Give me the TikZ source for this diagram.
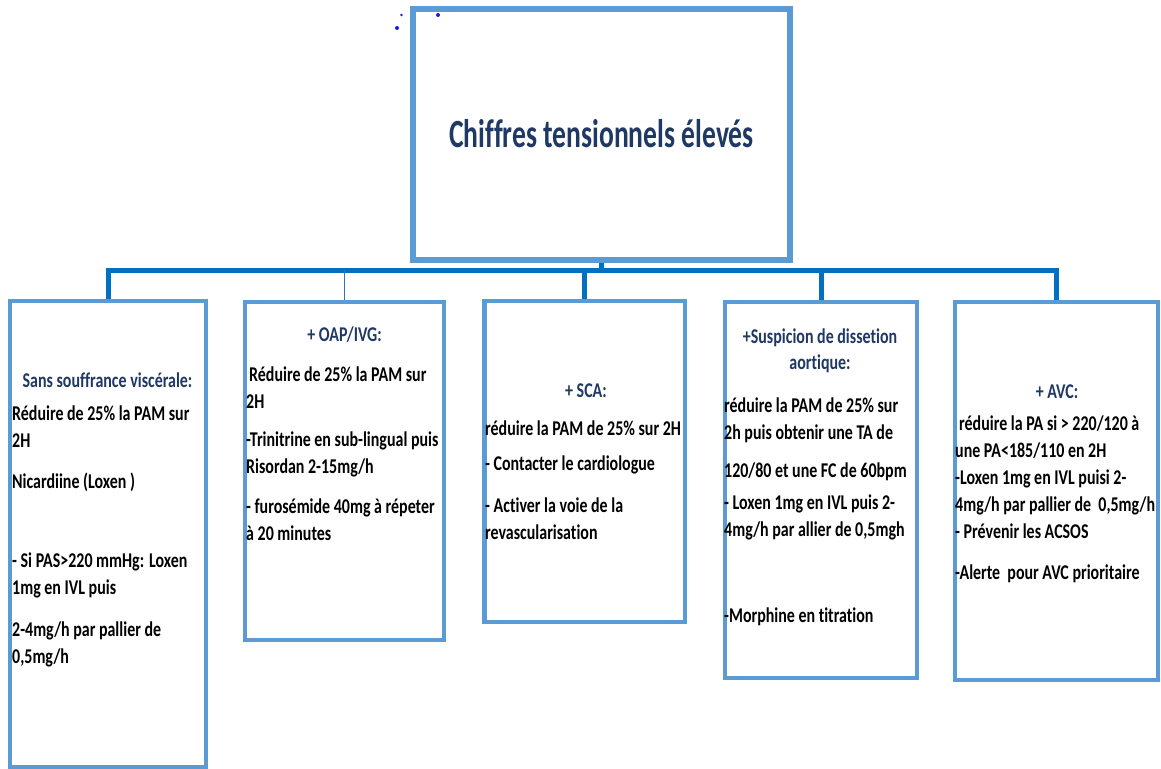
\documentclass[tikz,border=0pt]{standalone}
\usepackage{fontspec}
\newfontfamily\bodyfont[FakeStretch=0.76,Ligatures=NoCommon]{Carlito Bold}
\newfontfamily\titlefont[FakeStretch=0.69,Ligatures=NoCommon]{Carlito Bold}
\definecolor{boxblue}{HTML}{5B9BD5}
\definecolor{busblue}{HTML}{0070C0}
\definecolor{linkblue}{HTML}{2E75B6}
\definecolor{navy}{HTML}{1F3864}
\definecolor{dotblue}{HTML}{1A1AE6}
% invisible rule fixing the first baseline 20bp below the top of a text block
\newcommand\firststrut{\rule{0pt}{20bp}}

\begin{document}
\begin{tikzpicture}[x=1bp,y=-1bp,
  card/.style={draw=boxblue,line width=4.5bp,fill=white,inner sep=0pt},
  bus/.style={draw=busblue,line width=5bp,line join=miter},
  thinlink/.style={draw=linkblue,line width=1.5bp},
  head/.style={text=navy,font=\bodyfont\fontsize{21bp}{26bp}\selectfont,
    inner sep=0pt,align=center,anchor=north},
  body/.style={text=black,font=\bodyfont\fontsize{21bp}{27bp}\selectfont,
    inner sep=0pt,align=left,anchor=north west},
]
\fill[white] (0,0) rectangle (1161,769);
\useasboundingbox (0,0) rectangle (1161,769);

% root box
\node[card,line width=5.5bp,minimum width=377bp,minimum height=251bp,
  text=navy,font=\titlefont\fontsize{40bp}{44bp}\selectfont]
  (top) at (601.5,134.5) {\raisebox{3bp}{Chiffres tensionnels élevés}};

% small selection dots beside the root box
\fill[dotblue] (397,28) circle (2bp);
\fill[dotblue] (401.5,15) circle (1.3bp);
\fill[dotblue] (438,15) circle (2bp);

% child boxes
\node[card,minimum width=196bp,minimum height=466bp] (b1) at (108,534) {};
\node[card,minimum width=199bp,minimum height=338bp] (b2) at (344.5,471) {};
\node[card,minimum width=200.5bp,minimum height=321bp] (b3) at (584.75,461.5) {};
\node[card,minimum width=192bp,minimum height=376bp] (b4) at (821,490) {};
\node[card,minimum width=203bp,minimum height=378bp] (b5) at (1056.5,491) {};

% connectors
\coordinate (j) at (601.5,270);
\draw[bus] (top.south) -- (top.south |- j);
\draw[bus] (b1.north) |- (j) -| (b5.north);
\draw[bus] (b3.north) -- (b3.north |- j);
\draw[bus] (b4.north) -- (b4.north |- j);
\draw[thinlink] (b2.north) -- (b2.north |- j);

% box 1
\node[head] (h1) at (107.5,367) {\firststrut Sans souffrance viscérale:};
\node[body] (t1) at (12,400) {\firststrut Réduire de 25\% la PAM sur\\
  2H\\[14bp]
  Nicardiine (Loxen )\\[52bp]
  - Si PAS>220 mmHg: Loxen\\
  1mg en IVL puis\\[15bp]
  2-4mg/h par pallier de\\
  0,5mg/h};

% box 2
\node[head] (h2) at (344.5,321) {\firststrut + OAP/IVG:};
\node[body] (t2) at (246,361) {\firststrut\hspace{3bp}Réduire de 25\% la PAM sur\\
  2H\\[11bp]
  -Trinitrine en sub-lingual puis\\
  Risordan 2-15mg/h\\[13bp]
  - furosémide 40mg à répeter\\
  à 20 minutes};

% box 3
\node[head] (h3) at (586,377) {\firststrut + SCA:};
\node[body] (t3) at (485,415) {\firststrut réduire la PAM de 25\% sur 2H\\[8bp]
  - Contacter le cardiologue\\[15bp]
  - Activer la voie de la\\
  revascularisation};

% box 4
\node[head] (h4) at (820,323) {\firststrut +Suspicion de dissetion\\ aortique:};
\node[body] (t4) at (724,392) {\firststrut réduire la PAM de 25\% sur\\
  2h puis obtenir une TA de\\[11bp]
  120/80 et une FC de 60bpm\\[5bp]
  - Loxen 1mg en IVL puis 2-\\
  4mg/h par allier de 0,5mgh\\[59bp]
  -Morphine en titration};

% box 5
\node[head] (h5) at (1057,378) {\firststrut + AVC:};
\node[body] (t5) at (955,410) {\firststrut\hspace{4bp}réduire la PA si > 220/120 à\\
  une PA<185/110 en 2H\\
  -Loxen 1mg en IVL puisi 2-\\
  4mg/h par pallier de~~0,5mg/h\\
  - Prévenir les ACSOS\\[14bp]
  -Alerte~~pour AVC prioritaire};
\end{tikzpicture}
\end{document}
